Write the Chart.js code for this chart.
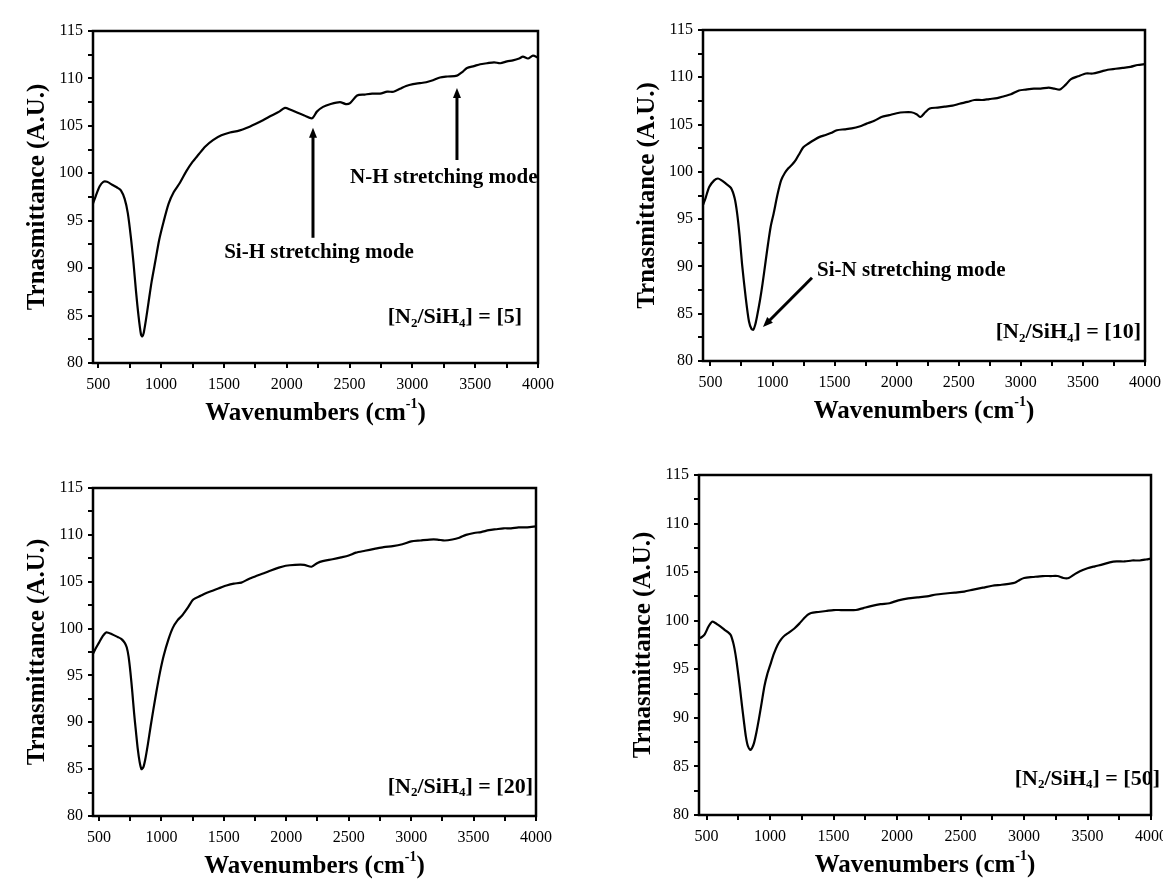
<!DOCTYPE html>
<html lang="en">
<head>
<meta charset="UTF-8">
<title>FTIR spectra of SiN films</title>
<script src="https://cdn.jsdelivr.net/npm/chart.js"></script>
<style>
  body { margin: 0; background: #fff; overflow: hidden; width: 1163px; height: 880px; position: relative; }
  canvas { position: absolute; }
</style>
</head>
<body>
<canvas id="c5" width="580" height="440" style="left:0;top:0"></canvas>
<canvas id="c10" width="600" height="440" style="left:580px;top:0"></canvas>
<canvas id="c20" width="580" height="440" style="left:0;top:440px"></canvas>
<canvas id="c50" width="600" height="440" style="left:580px;top:440px"></canvas>
<script>
// spectra: wavenumber (cm-1) and transmittance (A.U.) for each N2/SiH4 ratio
const wn5 = [458, 480, 510, 540, 570, 610, 650, 680, 710, 735, 760, 780, 800, 820, 840, 850, 862, 880, 900, 925,
  955, 985, 1020, 1060, 1100, 1150, 1200, 1250, 1300, 1350, 1413, 1480, 1548, 1620, 1684, 1750, 1811, 1880, 1940, 1986,
  2030, 2082, 2140, 2202, 2240, 2289, 2350, 2424, 2470, 2504, 2560, 2620, 2680, 2743, 2800, 2850, 2902, 2950, 3005, 3060,
  3110, 3164, 3220, 3280, 3355, 3400, 3435, 3490, 3540, 3594, 3650, 3700, 3753, 3800, 3850, 3880, 3920, 3960, 4000];
const tr5 = [96.8, 97.6, 98.6, 99.1, 99.1, 98.8, 98.5, 98.2, 97.3, 95.8, 93.2, 90.6, 87.6, 85.0, 83.0, 82.8, 83.2, 84.6, 86.4, 88.6,
  90.8, 93.0, 94.9, 96.8, 98.0, 99.0, 100.2, 101.2, 102.0, 102.8, 103.5, 104.0, 104.3, 104.5, 104.8, 105.2, 105.6, 106.1, 106.5, 106.9,
  106.7, 106.4, 106.1, 105.8, 106.5, 107.0, 107.3, 107.5, 107.3, 107.4, 108.2, 108.3, 108.4, 108.4, 108.6, 108.6, 108.9, 109.2, 109.4, 109.5,
  109.6, 109.8, 110.1, 110.2, 110.3, 110.7, 111.1, 111.3, 111.5, 111.6, 111.7, 111.6, 111.8, 111.9, 112.1, 112.3, 112.1, 112.4, 112.2];

const wn10 = [440, 460, 490, 530, 560, 590, 620, 665, 695, 715, 735, 755, 785, 810, 830, 845, 860, 875, 900, 920,
  945, 964, 985, 1009, 1040, 1069, 1100, 1129, 1160, 1189, 1220, 1248, 1290, 1338, 1380, 1428, 1470, 1518, 1580, 1638,
  1700, 1757, 1820, 1877, 1940, 2000, 2060, 2117, 2160, 2192, 2230, 2266, 2330, 2386, 2450, 2506, 2570, 2626, 2690, 2745,
  2810, 2865, 2920, 2985, 3040, 3105, 3160, 3224, 3270, 3314, 3360, 3404, 3460, 3524, 3580, 3643, 3700, 3763, 3820, 3883,
  3940, 4000];
const tr10 = [96.5, 97.2, 98.4, 99.1, 99.3, 99.1, 98.8, 98.3, 97.2, 95.6, 93.2, 90.2, 86.6, 84.2, 83.4, 83.3, 83.8, 84.7, 86.5, 88.2,
  90.6, 92.4, 94.2, 95.6, 97.6, 99.1, 99.9, 100.4, 100.8, 101.3, 102.0, 102.6, 103.0, 103.4, 103.7, 103.9, 104.1, 104.4, 104.5, 104.6,
  104.8, 105.1, 105.4, 105.8, 106.0, 106.2, 106.3, 106.3, 106.1, 105.8, 106.3, 106.7, 106.8, 106.9, 107.0, 107.2, 107.4, 107.6, 107.6, 107.7,
  107.8, 108.0, 108.2, 108.6, 108.7, 108.8, 108.8, 108.9, 108.8, 108.7, 109.2, 109.8, 110.1, 110.4, 110.4, 110.6, 110.8, 110.9, 111.0, 111.1,
  111.3, 111.4];

const wn20 = [452, 470, 500, 530, 559, 604, 650, 678, 705, 722, 737, 752, 767, 781, 796, 811, 825, 840, 855, 870,
  892, 914, 936, 959, 988, 1018, 1055, 1092, 1130, 1166, 1210, 1255, 1314, 1360, 1403, 1460, 1521, 1580, 1640, 1700,
  1758, 1820, 1876, 1940, 1995, 2070, 2143, 2202, 2250, 2291, 2370, 2439, 2500, 2557, 2630, 2705, 2780, 2853, 2930, 3001,
  3075, 3149, 3210, 3268, 3330, 3386, 3440, 3504, 3560, 3623, 3680, 3741, 3800, 3860, 3930, 4000];
const tr20 = [97.3, 97.8, 98.5, 99.2, 99.6, 99.4, 99.1, 98.9, 98.5, 98.0, 97.0, 95.3, 93.2, 91.0, 89.0, 87.1, 85.8, 85.0, 85.2, 86.0,
  87.7, 89.6, 91.4, 93.2, 95.3, 97.1, 98.8, 100.1, 100.9, 101.4, 102.2, 103.1, 103.5, 103.8, 104.0, 104.3, 104.6, 104.8, 104.9, 105.3,
  105.6, 105.9, 106.2, 106.5, 106.7, 106.8, 106.8, 106.6, 107.0, 107.2, 107.4, 107.6, 107.8, 108.1, 108.3, 108.5, 108.7, 108.8, 109.0, 109.3,
  109.4, 109.5, 109.5, 109.4, 109.5, 109.7, 110.0, 110.2, 110.3, 110.5, 110.6, 110.7, 110.7, 110.8, 110.8, 110.9];

const wn50 = [440, 460, 485, 515, 544, 565, 588, 620, 647, 670, 691, 708, 720, 735, 750, 765, 779, 794, 809, 825,
  844, 858, 873, 892, 912, 934, 956, 978, 1000, 1030, 1059, 1088, 1117, 1150, 1191, 1230, 1264, 1295, 1323, 1380,
  1441, 1500, 1558, 1620, 1676, 1735, 1794, 1870, 1941, 2010, 2088, 2160, 2235, 2310, 2382, 2455, 2529, 2600, 2676, 2750,
  2823, 2880, 2926, 2965, 3000, 3070, 3146, 3210, 3264, 3310, 3352, 3400, 3440, 3500, 3558, 3620, 3675, 3730, 3793, 3850,
  3911, 3960, 4000];
const tr50 = [98.2, 98.3, 98.6, 99.4, 99.9, 99.8, 99.6, 99.3, 99.0, 98.8, 98.5, 97.8, 97.1, 95.9, 94.4, 92.8, 91.2, 89.6, 88.1, 87.1,
  86.7, 86.9, 87.4, 88.5, 89.9, 91.6, 93.3, 94.5, 95.4, 96.6, 97.5, 98.1, 98.5, 98.8, 99.2, 99.7, 100.2, 100.6, 100.8, 100.9,
  101.0, 101.1, 101.1, 101.1, 101.1, 101.3, 101.5, 101.7, 101.8, 102.1, 102.3, 102.4, 102.5, 102.7, 102.8, 102.9, 103.0, 103.2, 103.4, 103.6,
  103.7, 103.8, 103.9, 104.2, 104.4, 104.5, 104.6, 104.6, 104.6, 104.4, 104.4, 104.8, 105.1, 105.4, 105.6, 105.8, 106.0, 106.1, 106.1, 106.2,
  106.2, 106.3, 106.4];

// labelled ticks; an unlabelled minor tick sits halfway between each pair
const xTicks = [500, 1000, 1500, 2000, 2500, 3000, 3500, 4000];
const yTicks = [80, 85, 90, 95, 100, 105, 110, 115];

const serif = "'Liberation Serif', 'Times New Roman', serif";

function withMinor(major) {
  const out = [];
  major.forEach((v, i) => {
    out.push({ value: v });
    if (i < major.length - 1) out.push({ value: (v + major[i + 1]) / 2 });
  });
  return out;
}

// draws a run of text pieces, some of them raised or lowered
function drawPieces(ctx, pieces, x, y, align) {
  const widths = pieces.map(p => {
    ctx.font = p.font;
    return ctx.measureText(p.text).width;
  });
  const total = widths.reduce((a, b) => a + b, 0);
  let cx = align === 'right' ? x - total : align === 'center' ? x - total / 2 : x;
  ctx.textAlign = 'left';
  ctx.textBaseline = 'middle';
  pieces.forEach((p, i) => {
    ctx.font = p.font;
    ctx.fillText(p.text, cx, y + (p.dy || 0));
    cx += widths[i];
  });
}

function drawArrow(ctx, x1, y1, x2, y2) {
  const ang = Math.atan2(y2 - y1, x2 - x1);
  ctx.lineWidth = 3;
  ctx.beginPath();
  ctx.moveTo(x1, y1);
  ctx.lineTo(x2 - 6 * Math.cos(ang), y2 - 6 * Math.sin(ang));
  ctx.stroke();
  ctx.beginPath();
  ctx.moveTo(x2, y2);
  ctx.lineTo(x2 - 10 * Math.cos(ang) + 4 * Math.sin(ang), y2 - 10 * Math.sin(ang) - 4 * Math.cos(ang));
  ctx.lineTo(x2 - 10 * Math.cos(ang) - 4 * Math.sin(ang), y2 - 10 * Math.sin(ang) + 4 * Math.cos(ang));
  ctx.closePath();
  ctx.fill();
}

// frame, axis titles, annotations and the gas ratio label
const spectrumDecor = {
  id: 'spectrumDecor',
  afterDraw(chart, args, opts) {
    const ctx = chart.ctx;
    const a = chart.chartArea;
    const sx = chart.scales.x, sy = chart.scales.y;
    ctx.save();
    ctx.fillStyle = '#000';
    ctx.strokeStyle = '#000';
    ctx.lineWidth = 2.5;
    ctx.strokeRect(a.left, a.top, a.right - a.left, a.bottom - a.top);

    // y title
    ctx.save();
    ctx.translate(a.left - 55, (a.top + a.bottom) / 2);
    ctx.rotate(-Math.PI / 2);
    ctx.font = 'bold 25px ' + serif;
    ctx.textAlign = 'center';
    ctx.textBaseline = 'middle';
    ctx.fillText('Trnasmittance (A.U.)', 0, 0);
    ctx.restore();

    // x title with superscript
    drawPieces(ctx, [
      { text: 'Wavenumbers (cm', font: 'bold 25px ' + serif },
      { text: '-1', font: 'bold 14px ' + serif, dy: -10 },
      { text: ')', font: 'bold 25px ' + serif }
    ], (a.left + a.right) / 2, a.bottom + 51, 'center');

    (opts.arrows || []).forEach(ar => {
      drawArrow(ctx, sx.getPixelForValue(ar.from[0]), sy.getPixelForValue(ar.from[1]),
        sx.getPixelForValue(ar.to[0]), sy.getPixelForValue(ar.to[1]));
    });

    (opts.notes || []).forEach(n => {
      drawPieces(ctx, [{ text: n.text, font: 'bold 21px ' + serif }],
        sx.getPixelForValue(n.x), sy.getPixelForValue(n.y), n.align);
    });

    const r = opts.ratio;
    drawPieces(ctx, [
      { text: '[N', font: 'bold 22px ' + serif },
      { text: '2', font: 'bold 13px ' + serif, dy: 6 },
      { text: '/SiH', font: 'bold 22px ' + serif },
      { text: '4', font: 'bold 13px ' + serif, dy: 6 },
      { text: '] = [' + r.value + ']', font: 'bold 22px ' + serif }
    ], sx.getPixelForValue(r.x), sy.getPixelForValue(r.y), 'right');
    ctx.restore();
  }
};

function makeChart(id, wn, tr, xmin, area, decor) {
  const canvas = document.getElementById(id);
  const W = canvas.width, H = canvas.height;
  return new Chart(canvas, {
    type: 'line',
    data: {
      datasets: [{
        data: wn.map((x, i) => ({ x: x, y: tr[i] })),
        borderColor: '#000',
        borderWidth: 2.2,
        pointRadius: 0,
        tension: 0.25,
        fill: false
      }]
    },
    options: {
      responsive: false,
      animation: false,
      layout: { padding: { left: 0, top: area.t, right: W - area.r, bottom: 0 } },
      plugins: {
        legend: { display: false },
        tooltip: { enabled: false },
        spectrumDecor: decor
      },
      scales: {
        x: {
          type: 'linear',
          min: xmin,
          max: 4000,
          afterBuildTicks: s => { s.ticks = withMinor(xTicks); },
          afterFit: s => { s.height = H - area.b; },
          border: { display: false },
          grid: { drawOnChartArea: false, tickLength: 5, color: '#000', lineWidth: 2 },
          ticks: {
            autoSkip: false,
            maxRotation: 0,
            padding: 7,
            color: '#000',
            font: { family: serif, size: 16 },
            callback: v => xTicks.includes(v) ? String(v) : ''
          }
        },
        y: {
          min: 80,
          max: 115,
          afterBuildTicks: s => { s.ticks = withMinor(yTicks); },
          afterFit: s => { s.width = area.l; },
          border: { display: false },
          grid: { drawOnChartArea: false, tickLength: 5, color: '#000', lineWidth: 2 },
          ticks: {
            autoSkip: false,
            padding: 5,
            color: '#000',
            font: { family: serif, size: 16 },
            callback: v => yTicks.includes(v) ? String(v) : ''
          }
        }
      }
    },
    plugins: [spectrumDecor]
  });
}

makeChart('c5', wn5, tr5, 458, { l: 93, t: 31, r: 538, b: 363 }, {
  ratio: { value: 5, x: 3873, y: 84.8 },
  notes: [
    { text: 'Si-H stretching mode', x: 2257, y: 91.6, align: 'center' },
    { text: 'N-H stretching mode', x: 2504, y: 99.6, align: 'left' }
  ],
  arrows: [
    { from: [2209, 93.2], to: [2209, 104.8] },
    { from: [3355, 101.4], to: [3355, 109.0] }
  ]
});

makeChart('c10', wn10, tr10, 440, { l: 123, t: 30, r: 565, b: 361 }, {
  ratio: { value: 10, x: 3968, y: 83.0 },
  notes: [{ text: 'Si-N stretching mode', x: 1358, y: 89.6, align: 'left' }],
  arrows: [{ from: [1318, 88.8], to: [923, 83.6] }]
});

makeChart('c20', wn20, tr20, 452, { l: 93, t: 48, r: 536, b: 376 }, {
  ratio: { value: 20, x: 3976, y: 83.1 }
});

makeChart('c50', wn50, tr50, 440, { l: 119, t: 35, r: 571, b: 375 }, {
  ratio: { value: 50, x: 4071, y: 83.7 }
});
</script>
</body>
</html>
